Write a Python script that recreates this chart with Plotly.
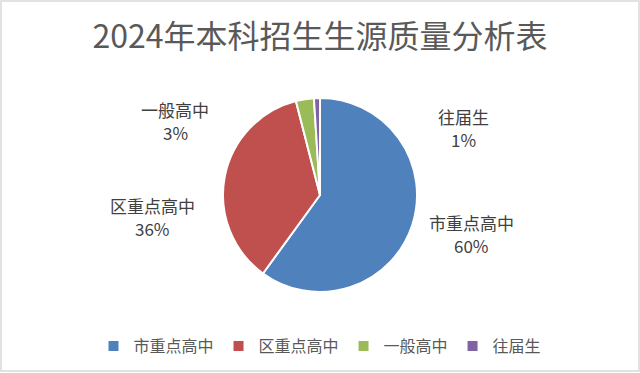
import plotly.graph_objects as go

# Enrollment source quality breakdown
categories = ["市重点高中", "区重点高中", "一般高中", "往届生"]
shares = [60, 36, 3, 1]
colors = ["#4F81BD", "#C0504D", "#9BBB59", "#8064A2"]

W, H = 640, 373
FONT = "Noto Sans CJK SC, Noto Sans, sans-serif"

fig = go.Figure(
    go.Pie(
        labels=categories,
        values=shares,
        sort=False,
        direction="clockwise",
        rotation=0,
        marker=dict(colors=colors, line=dict(color="white", width=2)),
        textinfo="none",
        hoverinfo="label+percent",
        domain=dict(x=[223 / W, 417 / W], y=[(H - 292) / H, (H - 98) / H]),
    )
)

# Outside data labels: category name on one line, share below it
label_pos = [(471, 234), (152, 217), (175, 121), (463, 128)]
label_font = dict(family=FONT, size=17, color="#404040")
for name, val, (px, py) in zip(categories, shares, label_pos):
    for text, dy in ((name, -11.5), (f"{val}%", 11.5)):
        fig.add_annotation(
            x=px / W, y=1 - (py + dy) / H, xref="paper", yref="paper",
            text=text, showarrow=False, font=label_font,
            xanchor="center", yanchor="middle",
        )

# Chart frame
fig.add_shape(
    type="rect", xref="paper", yref="paper",
    x0=1 / W, x1=1 - 1 / W, y0=2 / H, y1=1 - 1 / H,
    line=dict(color="#D9D9D9", width=1.5), layer="below",
)

fig.update_layout(
    width=W, height=H,
    margin=dict(l=0, r=0, t=0, b=0),
    paper_bgcolor="white",
    title=dict(
        text="2024年本科招生生源质量分析表",
        x=0.5, xanchor="center", y=1 - 37 / H, yanchor="middle",
        font=dict(family=FONT, size=32, color="#595959"),
    ),
    showlegend=True,
    legend=dict(
        orientation="h", x=0.5, xanchor="center", y=1 - 346 / H, yanchor="middle",
        font=dict(family=FONT, size=16, color="#595959"),
        itemwidth=30, traceorder="normal",
    ),
)

fig.write_html("out.html")
